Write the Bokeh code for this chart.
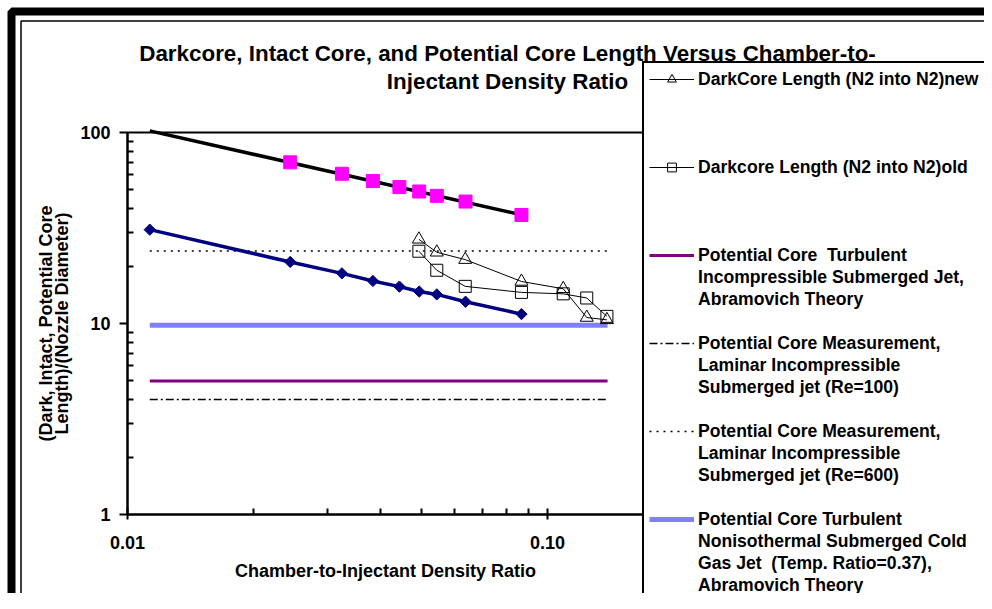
import numpy as np
from bokeh.plotting import figure
from bokeh.models import (Range1d, FixedTicker, NumeralTickFormatter, Legend,
                          LegendItem, Label, BoxAnnotation, LogAxis)
from bokeh.embed import file_html
from bokeh.resources import INLINE

# ---------------- data ----------------
fit_x = [0.0113, 0.087]
fit_y = [102.0, 37.0]

intact_x = [0.0244, 0.0324, 0.0384, 0.0444, 0.0495, 0.0545, 0.0638, 0.0867]
intact_y = [69.8, 60.8, 55.7, 51.8, 49.1, 46.6, 43.5, 37.0]

potential_x = [0.0113, 0.0244, 0.0324, 0.0384, 0.0444, 0.0495, 0.0545, 0.0638, 0.0867]
potential_y = [31.0, 21.0, 18.3, 16.7, 15.6, 14.7, 14.2, 13.0, 11.2]

dark_x = [0.0494, 0.0545, 0.0637, 0.0867, 0.109, 0.124, 0.1385]
dark_new_y = [27.6, 23.6, 21.6, 16.6, 15.2, 10.75, 10.45]
dark_old_y = [23.9, 19.0, 15.65, 14.55, 14.3, 13.6, 10.9]

ref_x = [0.0113, 0.139]
abramovich_y = [5.0, 5.0]
re100_y = [4.0, 4.0]
re600_y = [24.0, 24.0]
cold_gas_y = [9.8, 9.8]

x_major = [0.01, 0.1]
x_minor = [0.02, 0.03, 0.04, 0.05, 0.06, 0.07, 0.08, 0.09]
y_major = [1, 10, 100]
y_minor = [2, 3, 4, 5, 6, 7, 8, 9, 20, 30, 40, 50, 60, 70, 80, 90]
x_axis_bounds = (0.01, 0.169)
y_axis_bounds = (1, 100)

title_lines = ["Darkcore, Intact Core, and Potential Core Length Versus Chamber-to-",
               "Injectant Density Ratio"]
y_label_lines = ["(Dark, Intact, Potential Core", "Length)/(Nozzle Diameter)"]
x_label = "Chamber-to-Injectant Density Ratio"

FONT = "Liberation Sans"
W, H = 984, 593
# plot-area placement in canvas pixels
PL, PT, PB = 127, 132, 514
PX_DEC_X = 420.0
PX_DEC_Y = (PB - PT) / 2.0

x0 = x_axis_bounds[0] * 10 ** (-PL / PX_DEC_X)
x1 = x_axis_bounds[0] * 10 ** ((W - PL) / PX_DEC_X)
y1 = y_axis_bounds[1] * 10 ** (PT / PX_DEC_Y)
y0 = y_axis_bounds[1] * 10 ** ((PT - H) / PX_DEC_Y)

p = figure(width=W, height=H, x_axis_type="log", y_axis_type="log",
           x_axis_location=None, y_axis_location=None,
           x_range=Range1d(x0, x1), y_range=Range1d(y0, y1),
           output_backend="svg", toolbar_location=None, title=None,
           min_border=0, min_border_left=0, min_border_right=0,
           min_border_top=0, min_border_bottom=0)
p.grid.visible = False
p.outline_line_color = None
p.background_fill_color = "white"
p.border_fill_color = "white"

xa = LogAxis(fixed_location=y_axis_bounds[0], bounds=x_axis_bounds,
             ticker=FixedTicker(ticks=x_major, minor_ticks=x_minor),
             formatter=NumeralTickFormatter(format="0.00"))
ya = LogAxis(fixed_location=x_axis_bounds[0], bounds=y_axis_bounds,
             ticker=FixedTicker(ticks=y_major, minor_ticks=y_minor),
             formatter=NumeralTickFormatter(format="0"))
for ax in (xa, ya):
    ax.axis_line_width = 2
    ax.major_tick_line_width = 2
    ax.minor_tick_line_width = 2
    ax.major_label_text_font = FONT
    ax.major_label_text_font_style = "bold"
    ax.major_label_text_font_size = "18px"
    ax.major_label_text_color = "black"
xa.major_tick_in = 6
xa.major_tick_out = 5
xa.minor_tick_in = 6
xa.minor_tick_out = 0
xa.major_label_standoff = 16
ya.major_tick_in = 0
ya.major_tick_out = 8
ya.minor_tick_in = 6
ya.minor_tick_out = 0
ya.major_label_standoff = 9
p.add_layout(xa, "below")
p.add_layout(ya, "left")

# plot-area border (top edge visible, right edge under legend)
p.add_layout(BoxAnnotation(left=x_axis_bounds[0], right=x_axis_bounds[1],
                           bottom=y_axis_bounds[0], top=y_axis_bounds[1],
                           fill_alpha=0, line_color="black", line_alpha=1,
                           line_width=2))

# ---------------- series ----------------
cold = p.line(ref_x, cold_gas_y, line_color="#8080FF", line_width=5)
abr = p.line(ref_x, abramovich_y, line_color="#800080", line_width=3)
re100 = p.line(ref_x, re100_y, line_color="black", line_width=1.5, line_dash="8 3 2 3")
re600 = p.line(ref_x, re600_y, line_color="black", line_width=1.5, line_dash="2 5")

p.line(fit_x, fit_y, line_color="black", line_width=3.5)
p.scatter(intact_x, intact_y, marker="square", size=13,
          fill_color="#FF00FF", line_color="#FF00FF")
p.line(potential_x, potential_y, line_color="#000080", line_width=3.5)
p.scatter(potential_x, potential_y, marker="square", angle=np.pi / 4, size=8,
          fill_color="#000080", line_color="#000080")

dn_line = p.line(dark_x, dark_new_y, line_color="black", line_width=1)
dn_pts = p.scatter(dark_x, dark_new_y, marker="triangle", size=13,
                   fill_alpha=0, line_color="black", line_width=1)
do_line = p.line(dark_x, dark_old_y, line_color="black", line_width=1)
do_pts = p.scatter(dark_x, dark_old_y, marker="square", size=12,
                   fill_alpha=0, line_color="black", line_width=1)

blank = p.line(x=[], y=[], line_alpha=0)

# ---------------- legend ----------------
rows = [
    ("DarkCore Length (N2 into N2)new", [dn_line, dn_pts]),
    (" ", [blank]), (" ", [blank]), (" ", [blank]),
    ("Darkcore Length (N2 into N2)old", [do_line, do_pts]),
    (" ", [blank]), (" ", [blank]), (" ", [blank]),
    ("Potential Core  Turbulent", [abr]),
    ("Incompressible Submerged Jet,", [blank]),
    ("Abramovich Theory", [blank]),
    (" ", [blank]),
    ("Potential Core Measurement,", [re100]),
    ("Laminar Incompressible", [blank]),
    ("Submerged jet (Re=100)", [blank]),
    (" ", [blank]),
    ("Potential Core Measurement,", [re600]),
    ("Laminar Incompressible", [blank]),
    ("Submerged jet (Re=600)", [blank]),
    (" ", [blank]),
    ("Potential Core Turbulent", [cold]),
    ("Nonisothermal Submerged Cold", [blank]),
    ("Gas Jet  (Temp. Ratio=0.37),", [blank]),
    ("Abramovich Theory", [blank]),
]
items = [LegendItem(label=t, renderers=r) for t, r in rows]
legend = Legend(items=items, location=(642, -10), orientation="vertical",
                glyph_width=45, glyph_height=22, label_height=22, spacing=0,
                padding=5, margin=0, label_standoff=4,
                border_line_color="black", border_line_width=2,
                border_line_alpha=1,
                background_fill_color="white", background_fill_alpha=1,
                label_text_font=FONT, label_text_font_style="bold",
                label_text_font_size="17.6px", label_text_color="black")
p.add_layout(legend)

# ---------------- texts ----------------
def lab(text, x, y, size, angle=0.0):
    p.add_layout(Label(x=x, y=H - y, x_units="screen", y_units="screen", text=text,
                       angle=angle, text_align="center", text_baseline="middle",
                       text_font=FONT, text_font_style="bold",
                       text_font_size=size, text_color="black"))

lab(title_lines[0], 507, 53, "22.4px")
lab(title_lines[1], 507, 81, "22.4px")
lab(y_label_lines[0], 45, 323, "18px", np.pi / 2)
lab(y_label_lines[1], 61, 323, "18px", np.pi / 2)
lab(x_label, 385, 570, "18px")

# ---------------- chart-area border ----------------
p.add_layout(BoxAnnotation(left=11, right=3000, top=11, bottom=3000,
                           left_units="canvas", right_units="canvas",
                           top_units="canvas", bottom_units="canvas",
                           fill_alpha=0, line_color="black", line_alpha=1,
                           line_width=8))
p.add_layout(BoxAnnotation(left=20.5, right=3000, top=20.5, bottom=3000,
                           left_units="canvas", right_units="canvas",
                           top_units="canvas", bottom_units="canvas",
                           fill_alpha=0, line_color="black", line_alpha=1,
                           line_width=1.5))

open("out.html", "w").write(file_html(p, INLINE))
